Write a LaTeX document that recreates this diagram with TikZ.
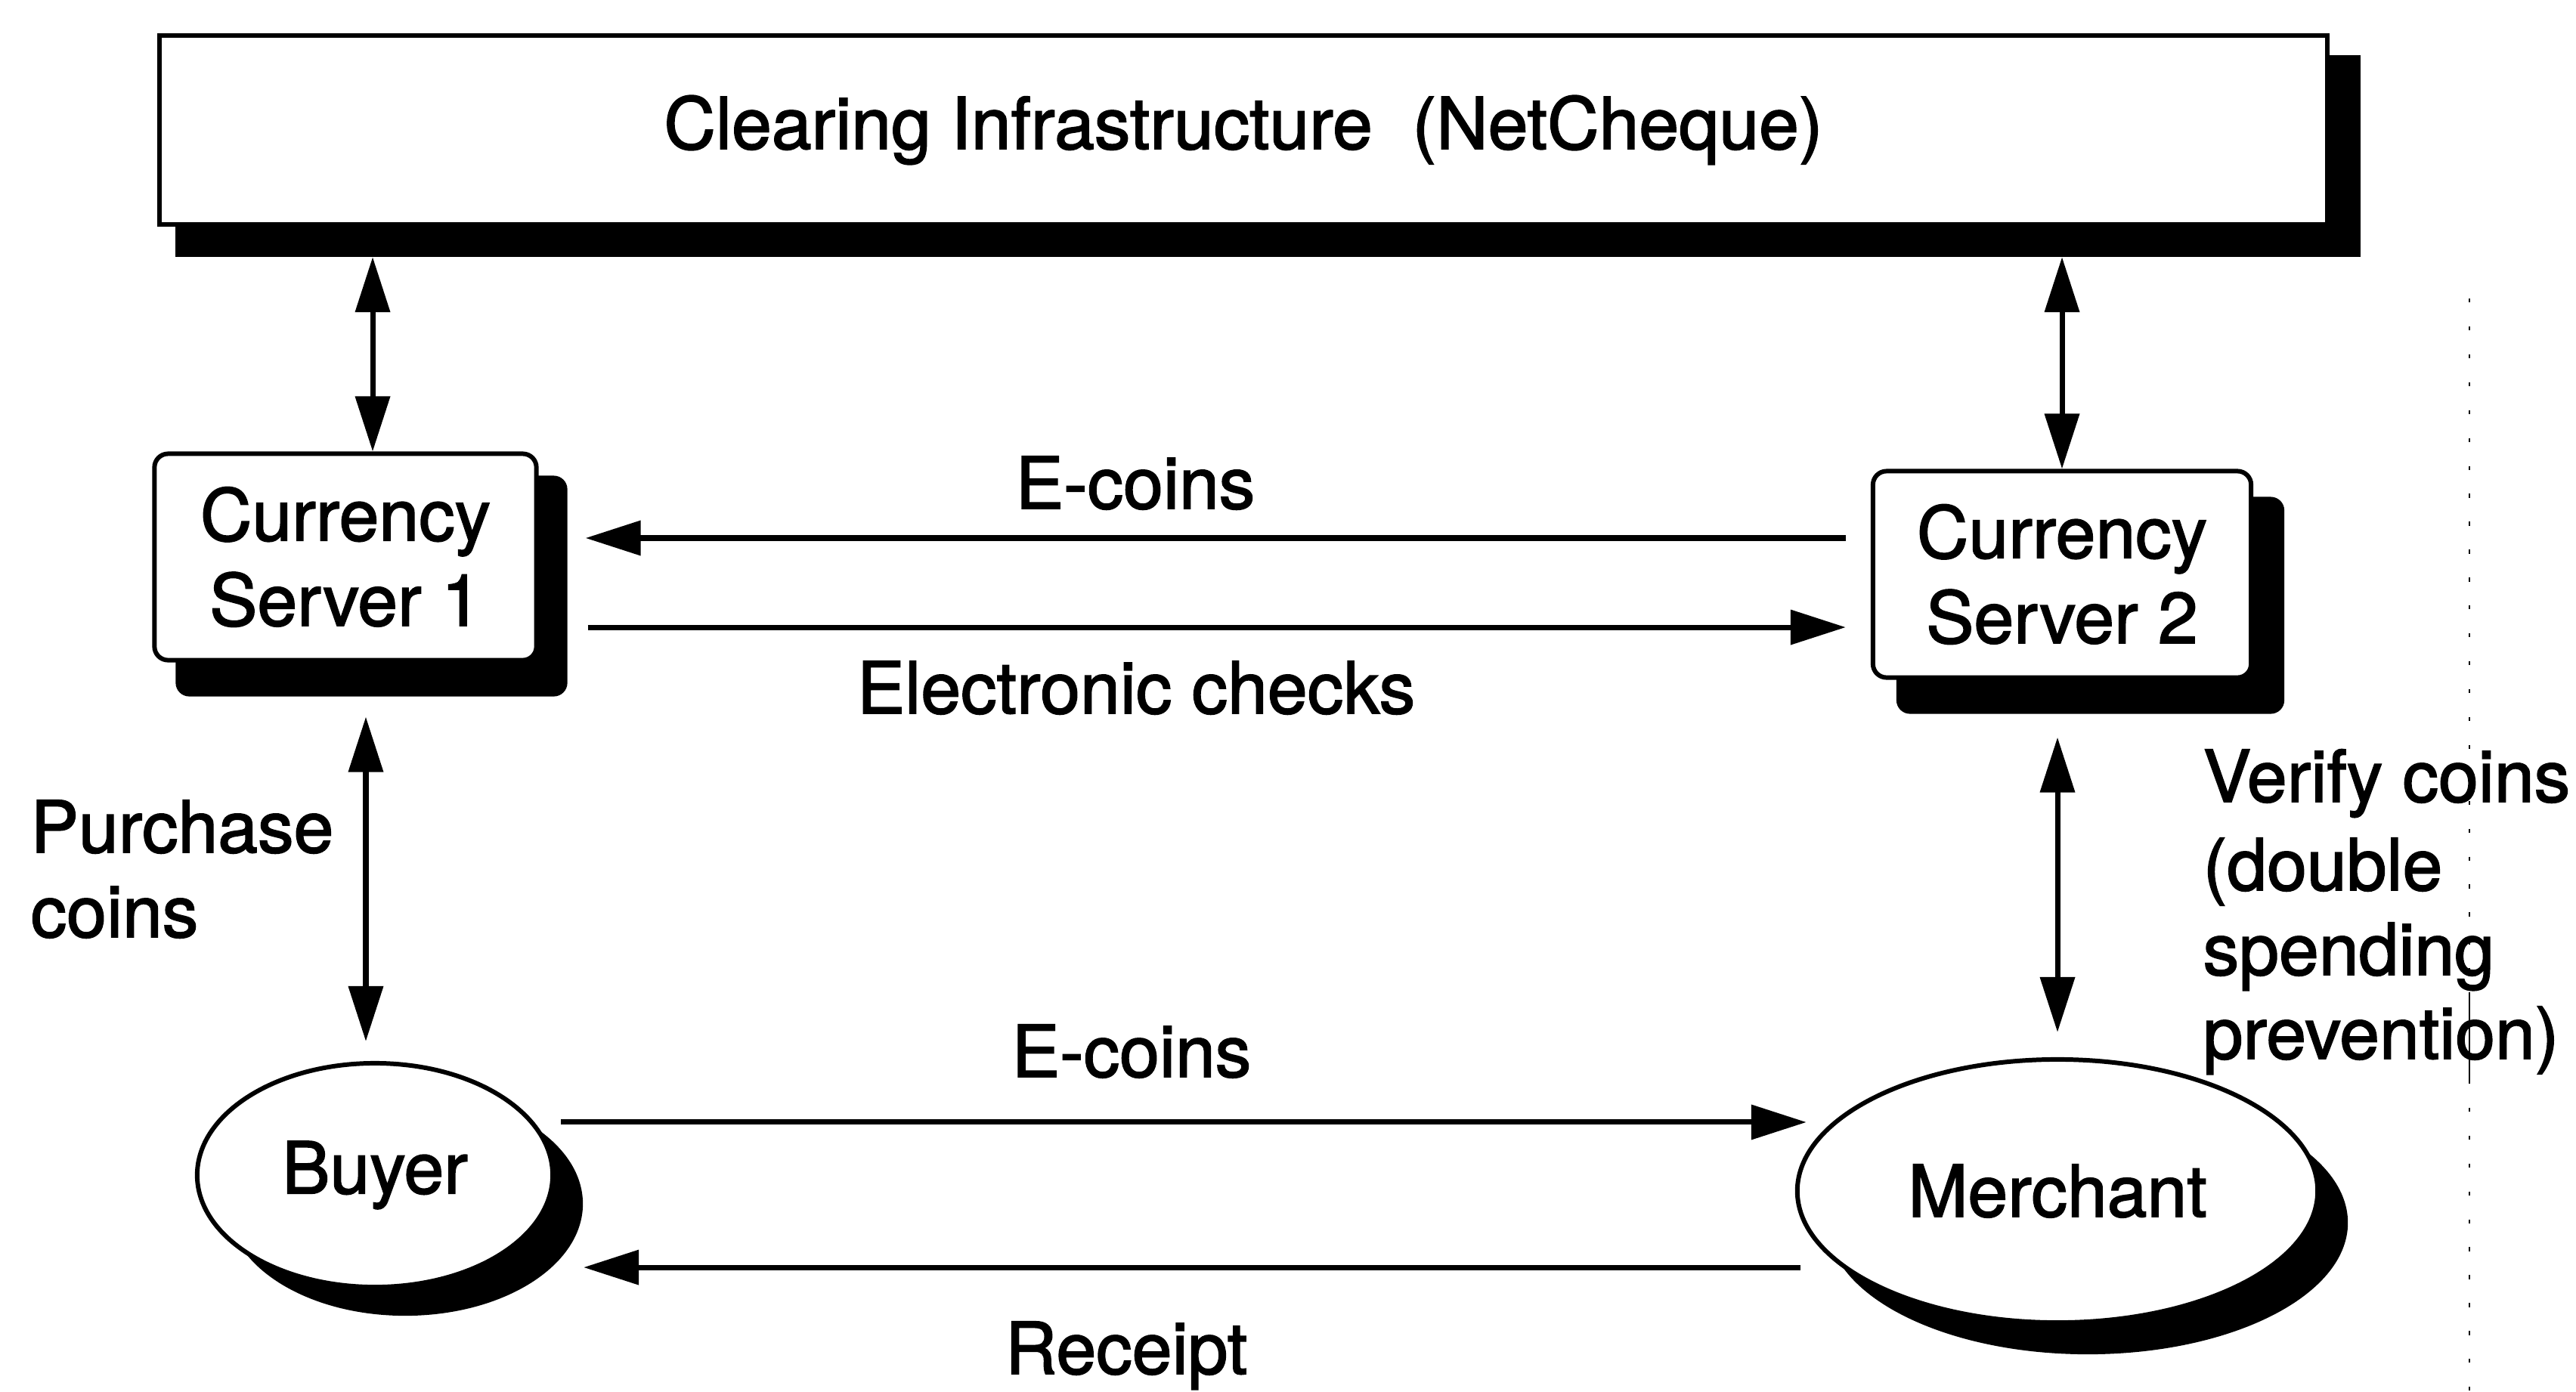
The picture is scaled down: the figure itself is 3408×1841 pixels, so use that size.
\documentclass[tikz,border=0pt]{standalone}
\usepackage{fontspec}
\setmainfont{TeX Gyre Heros}
\newfontfamily\diagfont{TeX Gyre Heros}[UprightFeatures={FakeBold=1.8}]
\usetikzlibrary{arrows.meta,shapes.geometric,backgrounds}
\begin{document}
\begin{tikzpicture}[x=0.01cm, y=-0.01cm,
  every node/.style={font=\diagfont\fontsize{27}{32}\selectfont},
  box/.style={draw, line width=1.7pt, fill=white, inner sep=0pt},
  srvbox/.style={box, rounded corners=0.18cm, minimum height=2.73cm, align=center},
  party/.style={box, ellipse},
  tag/.style={inner sep=0pt},
  conn/.style={line width=2pt},
  tip/.tip={Triangle[length=0.73cm, width=0.45cm]},
  oneway/.style={conn, -tip},
  twoway/.style={conn, tip-tip},
  scanline/.style={line width=0.8pt}]
\useasboundingbox (0,0) rectangle (3408,1841);

% main boxes
\node[box, minimum width=28.67cm, minimum height=2.50cm] (clearing) at (1645,172)
  {Clearing Infrastructure\ \ (NetCheque)};
\node[srvbox, minimum width=5.05cm] (cs1) at (457,737) {Currency\\Server 1};
\node[srvbox, minimum width=5.00cm] (cs2) at (2728,760) {Currency\\Server 2};
\node[party, minimum width=4.70cm, minimum height=2.96cm] (buyer) at (496,1555) {Buyer};
\node[party, minimum width=6.88cm, minimum height=3.48cm] (merchant) at (2722,1576) {Merchant};

% drop shadows
\begin{scope}[on background layer]
  \fill ([shift={(24,29)}]clearing.north west) rectangle ([shift={(41,40)}]clearing.south east);
  \fill[rounded corners=0.18cm] ([shift={(31,32)}]cs1.north west) rectangle ([shift={(38,45)}]cs1.south east);
  \fill[rounded corners=0.18cm] ([shift={(34,37)}]cs2.north west) rectangle ([shift={(41,45)}]cs2.south east);
  \fill ([shift={(40,38)}]buyer.center) ellipse [x radius=2.35cm, y radius=1.48cm];
  \fill ([shift={(40,42)}]merchant.center) ellipse [x radius=3.44cm, y radius=1.74cm];
\end{scope}

% anchor points for the connectors
\coordinate (clearbase) at ([yshift=-0.40cm]clearing.south);
\coordinate (colA) at ([xshift=0.36cm]cs1.north);
\coordinate (colB) at ([xshift=-0.12cm, yshift=0.26cm]buyer.north);
\coordinate (colC) at ([yshift=0.33cm]merchant.north);
\coordinate (rowA) at ([yshift=0.48cm]cs2.west);
\coordinate (rowB) at ([yshift=-0.70cm]cs2.west);
\coordinate (rowC) at ([yshift=0.91cm]merchant.west);
\coordinate (rowD) at ([yshift=-1.01cm]merchant.west);

% vertical two-way links
\draw[twoway] (colA |- clearbase) -- (colA);
\draw[twoway] (cs2.north |- clearbase) -- (cs2.north);
\draw[twoway] ([yshift=-0.72cm]cs1.south -| colB) -- (colB);
\draw[twoway] ([yshift=-0.76cm]cs2.south -| colC) -- (colC);

% horizontal flows
\draw[oneway] ([xshift=-0.33cm]rowA) -- ([xshift=0.62cm]rowA -| cs1.east);
\draw[oneway] ([xshift=0.65cm]rowB -| cs1.east) -- ([xshift=-0.33cm]rowB);
\draw[oneway] ([xshift=0.08cm]rowC -| buyer.east) -- ([xshift=0.15cm]rowC);
\draw[oneway] ([xshift=0.07cm]rowD) -- ([xshift=0.38cm]rowD -| buyer.east);

% flow labels
\node[tag, anchor=base] (lblA) at (1502,673) {E-coins};
\node[tag, anchor=base] (lblB) at (1503,944) {Electronic checks};
\node[tag, anchor=base] (lblC) at (1497,1425) {E-coins};
\node[tag, anchor=base] (lblD) at (1490,1818) {Receipt};
\node[tag, anchor=base west] (purchA) at (40,1128) {Purchase};
\node[tag, anchor=base west] (purchB) at (40,1240) {coins};
\node[tag, anchor=base west] (verA) at (2914,1061) {Verify coins};
\node[tag, anchor=base west] (verB) at (2914,1178) {(double};
\node[tag, anchor=base west] (verC) at (2914,1290) {spending};
\node[tag, anchor=base west] (verD) at (2914,1401) {prevention)};

% faint vertical rule near the right margin
\draw[scanline, dash pattern=on 1.5pt off 9pt] (3267,395) -- (3267,1841);
\draw[scanline] (3267,1313) -- (3267,1430);
\end{tikzpicture}
\end{document}
